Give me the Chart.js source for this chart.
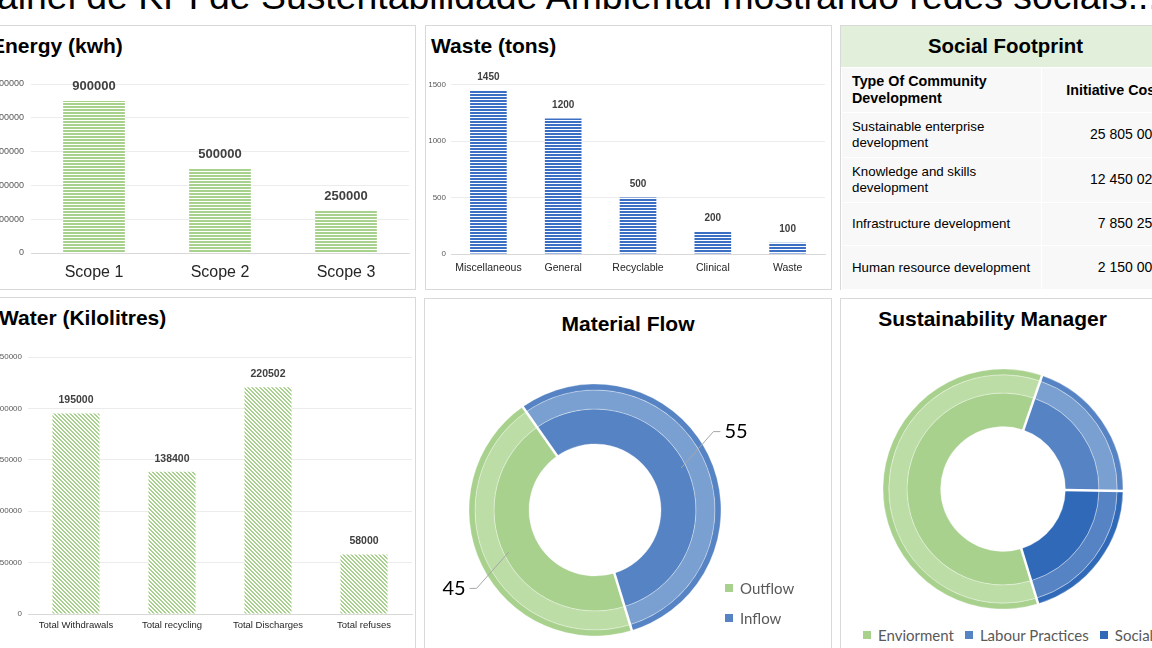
<!DOCTYPE html>
<html>
<head>
<meta charset="utf-8">
<title>Painel de KPI de Sustentabilidade Ambiental</title>
<script src="https://cdn.jsdelivr.net/npm/chart.js@4.4.0/dist/chart.umd.min.js"></script>
<style>
  html, body { margin: 0; padding: 0; }
  body {
    width: 1152px; height: 648px; overflow: hidden; position: relative;
    background: #fff; font-family: 'Liberation Sans', Arial, sans-serif;
  }
  .panel { position: absolute; box-sizing: border-box; border: 1px solid #d9d9d9; background: #fff; }
  .title { position: absolute; font-size: 21px; line-height: 21px; font-weight: bold; color: #000; white-space: nowrap; }
  .pagetitle { position: absolute; left: -28px; top: -22px; font-size: 37.4px; line-height: 37.4px; color: #000; white-space: nowrap; }
  canvas { position: absolute; }
  .sfhead { height: 41px; line-height: 41px; background: #e2efda; text-align: center; font-size: 20.4px; font-weight: bold; color: #000; }
  #social { border-collapse: collapse; table-layout: fixed; width: 329px; }
  #social td, #social th { background: #f8f8f8; border: 1px solid #fff; color: #000; padding: 0; }
  #social th { font-size: 14.3px; line-height: 17px; font-weight: bold; }
  #social td { font-size: 13.3px; line-height: 15.6px; }
  #social .c1 { text-align: left; padding: 0 5px 0 10px; }
  #social .c2 { text-align: right; padding-right: 9px; }
  #social td.c2 { font-size: 14px; }
  .legend { position: absolute; font-family: Lato, 'Open Sans', sans-serif; font-size: 15px; color: #595959; white-space: nowrap; }
  .legend .item { display: flex; align-items: center; height: 30px; }
  .legend.row { display: flex; }
  .legend.row .item { margin-right: 11px; height: 20px; }
  .legend .sw { display: inline-block; width: 8px; height: 8px; margin-right: 7px; }
</style>
</head>
<body>

<div class="pagetitle">Painel de KPI de Sustentabilidade Ambiental mostrando redes sociais...</div>

<div class="panel" style="left:-12px;top:25px;width:428px;height:265px;"></div>
<div class="panel" style="left:425px;top:25px;width:407px;height:265px;"></div>
<div class="panel" style="left:840px;top:25px;width:331px;height:265px;">
  <div class="sfhead">Social Footprint</div>
  <table id="social"></table>
</div>
<div class="panel" style="left:-12px;top:297px;width:428px;height:370px;"></div>
<div class="panel" style="left:424px;top:298px;width:408px;height:370px;"></div>
<div class="panel" style="left:840px;top:298px;width:331px;height:370px;"></div>

<div class="title" style="left:-9px;top:35px;">Energy (kwh)</div>
<div class="title" style="left:431px;top:35px;">Waste (tons)</div>
<div class="title" style="left:-1px;top:307px;">Water (Kilolitres)</div>
<div class="title" style="left:424px;top:313px;width:408px;text-align:center;">Material Flow</div>
<div class="title" style="left:840px;top:308px;width:305px;text-align:center;">Sustainability Manager</div>

<canvas id="energy" width="435" height="215" style="left:-20px;top:70px;"></canvas>
<canvas id="waste" width="420" height="215" style="left:410px;top:70px;"></canvas>
<canvas id="water" width="435" height="308" style="left:-20px;top:340px;"></canvas>
<canvas id="flow" width="340" height="300" style="left:425px;top:360px;"></canvas>
<canvas id="manager" width="260" height="260" style="left:873px;top:359px;"></canvas>

<div class="legend" id="flowLegend" style="left:725px;top:573px;"></div>
<div class="legend row" id="managerLegend" style="left:863px;top:625px;"></div>

<script>
// ---- data ----
const energyLabels = ["Scope 1", "Scope 2", "Scope 3"];
const energyValues = [900000, 500000, 250000];
const energyMax = 1000000;
const energyStep = 200000;

const wasteLabels = ["Miscellaneous", "General", "Recyclable", "Clinical", "Waste"];
const wasteValues = [1450, 1200, 500, 200, 100];
const wasteMax = 1500;
const wasteStep = 500;

const waterLabels = ["Total Withdrawals", "Total recycling", "Total Discharges", "Total refuses"];
const waterValues = [195000, 138400, 220502, 58000];
const waterMax = 250000;
const waterStep = 50000;

const flowLabels = ["Outflow", "Inflow"];
const flowValues = [45, 55];

const managerLabels = ["Enviorment", "Labour Practices", "Social"];
const managerValues = [60, 20, 20];

const tableHeaders = ["Type Of Community Development", "Initiative Cost"];
const communityTypes = [
  "Sustainable enterprise development",
  "Knowledge and skills development",
  "Infrastructure development",
  "Human resource development"
];
const initiativeCosts = ["25 805 000", "12 450 020", "7 850 250", "2 150 000"];

// ---- colours ----
const green = "#a9d18e";
const greenLight = "#bddda7";
const blue = "#5683c3";
const blueLight = "#7aa0d1";
const blueDark = "#2f69b8";

Chart.defaults.font.family = "'Liberation Sans', Arial, sans-serif";

// striped fills like the spreadsheet patterns
function stripes(color, diagonal) {
  const c = document.createElement("canvas");
  c.width = 4;
  c.height = diagonal ? 4 : 3;
  const g = c.getContext("2d");
  g.fillStyle = "#fff";
  g.fillRect(0, 0, c.width, c.height);
  g.fillStyle = color;
  if (diagonal) {
    for (let i = 0; i < 4; i++) {
      g.fillRect(i, i, 1, 1);
      g.fillRect((i + 1) % 4, i, 1, 1);
    }
  } else {
    g.fillRect(0, 0, 4, 2);
  }
  return g.createPattern(c, "repeat");
}

// numbers above the bars
const valueLabels = {
  id: "valueLabels",
  afterDatasetsDraw(chart, args, opts) {
    const { ctx } = chart;
    const meta = chart.getDatasetMeta(0);
    const data = chart.data.datasets[0].data;
    ctx.save();
    ctx.font = "bold " + opts.size + "px 'Liberation Sans', Arial, sans-serif";
    ctx.fillStyle = "#404040";
    ctx.textAlign = "center";
    ctx.textBaseline = "middle";
    meta.data.forEach((bar, i) => {
      ctx.fillText(data[i], bar.x, bar.y - opts.gap);
    });
    ctx.restore();
  }
};

function barChart(id, labels, values, fill, cfg) {
  return new Chart(document.getElementById(id), {
    type: "bar",
    data: {
      labels: labels,
      datasets: [{
        data: values,
        backgroundColor: fill,
        borderWidth: 0,
        barPercentage: 0.49,
        categoryPercentage: 1
      }]
    },
    options: {
      responsive: false,
      animation: false,
      layout: { padding: { top: cfg.top, right: cfg.right, left: 0, bottom: 0 } },
      plugins: {
        legend: { display: false },
        tooltip: { enabled: false },
        valueLabels: { size: cfg.valueSize, gap: cfg.gap }
      },
      scales: {
        x: {
          grid: { display: false, drawTicks: false },
          border: { color: "#d9d9d9" },
          ticks: { color: "#262626", font: { size: cfg.xSize }, padding: cfg.xPad, maxRotation: 0, autoSkip: false },
          afterFit: (s) => { s.height = cfg.xHeight; }
        },
        y: {
          min: 0,
          max: cfg.max,
          border: { display: false },
          grid: { color: "#ececec", drawTicks: false },
          ticks: { stepSize: cfg.step, color: "#595959", font: { size: cfg.ySize }, padding: cfg.yPad, callback: (v) => String(v) },
          afterFit: (s) => { s.width = cfg.yWidth; }
        }
      }
    },
    plugins: [valueLabels]
  });
}

barChart("energy", energyLabels, energyValues, stripes(green, false), {
  max: energyMax, step: energyStep, top: 14, right: 6, yWidth: 51, xHeight: 32,
  xSize: 16, xPad: 10, ySize: 9, yPad: 7, valueSize: 13, gap: 14
});
barChart("waste", wasteLabels, wasteValues, stripes("#3a6fc4", false), {
  max: wasteMax, step: wasteStep, top: 14.5, right: 5, yWidth: 41, xHeight: 31,
  xSize: 10.5, xPad: 8, ySize: 8, yPad: 5, valueSize: 10, gap: 13
});
barChart("water", waterLabels, waterValues, stripes(green, true), {
  max: waterMax, step: waterStep, top: 17, right: 3, yWidth: 48, xHeight: 34,
  xSize: 9.5, xPad: 6, ySize: 8, yPad: 6, valueSize: 10.5, gap: 13
});

// white cuts between the slices, through all rings
const separators = {
  id: "separators",
  afterDatasetsDraw(chart) {
    const outer = chart.getDatasetMeta(0).data;
    const inner = chart.getDatasetMeta(chart.data.datasets.length - 1).data;
    const ctx = chart.ctx;
    ctx.save();
    ctx.strokeStyle = "#fff";
    ctx.lineWidth = 2.5;
    outer.forEach((arc, i) => {
      const a = arc.startAngle;
      const r0 = inner[i].innerRadius - 1;
      const r1 = arc.outerRadius + 1;
      ctx.beginPath();
      ctx.moveTo(arc.x + Math.cos(a) * r0, arc.y + Math.sin(a) * r0);
      ctx.lineTo(arc.x + Math.cos(a) * r1, arc.y + Math.sin(a) * r1);
      ctx.stroke();
    });
    ctx.restore();
  }
};

// value labels with leader lines (Material Flow)
const leaderLabels = {
  id: "leaderLabels",
  afterDatasetsDraw(chart) {
    const rim = chart.getDatasetMeta(0).data;
    const main = chart.getDatasetMeta(2).data;
    const values = chart.data.datasets[2].data;
    const ctx = chart.ctx;
    ctx.save();
    main.forEach((arc, i) => {
      const mid = (arc.startAngle + arc.endAngle) / 2;
      const rMid = (arc.innerRadius + rim[i].outerRadius) / 2;
      const ax = arc.x + Math.cos(mid) * rMid;
      const ay = arc.y + Math.sin(mid) * rMid;
      const bend = mid - Math.PI / 24;
      const rOut = rim[i].outerRadius + 16;
      const bx = arc.x + Math.cos(bend) * rOut;
      const by = arc.y + Math.sin(bend) * rOut;
      const dir = Math.cos(bend) >= 0 ? 1 : -1;
      ctx.strokeStyle = "#a6a6a6";
      ctx.lineWidth = 1;
      ctx.beginPath();
      ctx.moveTo(ax, ay);
      ctx.lineTo(bx, by);
      ctx.lineTo(bx + dir * 7, by);
      ctx.stroke();
      ctx.fillStyle = "#000";
      ctx.font = "20px Lato, 'Open Sans', sans-serif";
      ctx.textAlign = dir > 0 ? "left" : "right";
      ctx.textBaseline = "middle";
      ctx.fillText(values[i], bx + dir * 11, by);
    });
    ctx.restore();
  }
};

function ringChart(id, labels, values, colors, radius, cutout, extra) {
  const ring = (fill, weight) => ({
    data: values,
    backgroundColor: fill,
    borderColor: "rgba(255,255,255,0.3)",
    borderWidth: 1,
    weight: weight
  });
  return new Chart(document.getElementById(id), {
    type: "doughnut",
    data: {
      labels: labels,
      datasets: [ring(colors.rim, 6), ring(colors.band, 19), ring(colors.main, 35)]
    },
    options: {
      responsive: false,
      animation: false,
      radius: radius,
      cutout: cutout,
      rotation: 163,
      layout: { padding: 0 },
      plugins: { legend: { display: false }, tooltip: { enabled: false } }
    },
    plugins: [separators].concat(extra)
  });
}

ringChart("flow", flowLabels, flowValues, {
  rim: [green, blue],
  band: [greenLight, blueLight],
  main: [green, blue]
}, 126, "52.4%", [leaderLabels]);

ringChart("manager", managerLabels, managerValues, {
  rim: [green, blue, blueDark],
  band: [greenLight, blueLight, blue],
  main: [green, blue, blueDark]
}, 120, "52%", []);

// legends
function legend(el, labels, colors) {
  el.innerHTML = labels.map((l, i) =>
    '<div class="item"><span class="sw" style="background:' + colors[i] + '"></span>' + l + "</div>"
  ).join("");
}
legend(document.getElementById("flowLegend"), flowLabels, [green, blue]);
legend(document.getElementById("managerLegend"), managerLabels, [green, blue, blueDark]);

// social footprint table
const rowHeights = [45, 45, 45, 43, 44];
let html = '<tr style="height:' + rowHeights[0] + 'px"><th class="c1" style="width:184px">' + tableHeaders[0] +
  '</th><th class="c2">' + tableHeaders[1] + "</th></tr>";
communityTypes.forEach((t, i) => {
  html += '<tr style="height:' + rowHeights[i + 1] + 'px"><td class="c1">' + t + '</td><td class="c2">' + initiativeCosts[i] + "</td></tr>";
});
document.getElementById("social").innerHTML = html;
</script>
</body>
</html>
